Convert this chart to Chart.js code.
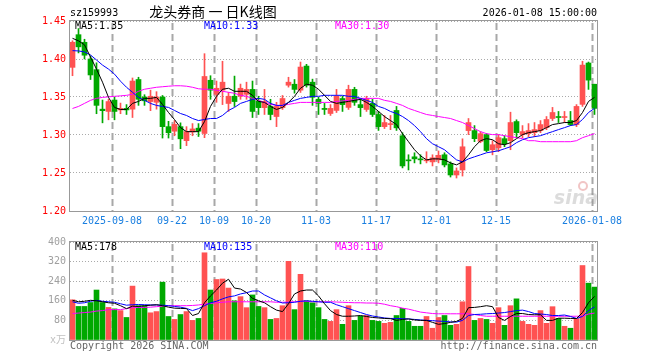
<!DOCTYPE html>
<html><head><meta charset="utf-8">
<script src="https://cdn.jsdelivr.net/npm/chart.js@4.4.1/dist/chart.umd.min.js"></script>
<style>
html,body{margin:0;padding:0;background:#fff;width:660px;height:360px;overflow:hidden}
canvas{position:absolute;left:0}
#c1{top:0}
#c2{top:232px}
</style></head><body>
<canvas id="c1" width="660" height="232"></canvas>
<canvas id="c2" width="660" height="128"></canvas>
<script>
// ---- data (one entry per trading day, 2025-08-28 .. 2026-01-08) ----
const openP  = [1.389,1.432,1.422,1.400,1.386,1.334,1.331,1.346,1.333,1.335,1.334,1.373,1.350,1.344,1.343,1.350,1.311,1.305,1.311,1.2925,1.304,1.309,1.302,1.372,1.3535,1.359,1.3415,1.351,1.351,1.3535,1.360,1.3445,1.336,1.3376,1.3243,1.336,1.3655,1.3668,1.359,1.3907,1.3695,1.347,1.335,1.3283,1.3323,1.348,1.3363,1.360,1.340,1.3336,1.3416,1.327,1.311,1.3137,1.3323,1.299,1.2673,1.2713,1.2686,1.266,1.2646,1.2673,1.274,1.262,1.2474,1.254,1.3058,1.3058,1.2916,1.3005,1.2806,1.2832,1.2952,1.2925,1.3177,1.3005,1.3018,1.3031,1.3058,1.3097,1.3217,1.3243,1.323,1.319,1.3137,1.3403,1.3947,1.3668];
const highP  = [1.424,1.440,1.426,1.404,1.395,1.346,1.347,1.350,1.342,1.340,1.375,1.376,1.353,1.359,1.357,1.352,1.318,1.319,1.316,1.311,1.315,1.315,1.407,1.378,1.371,1.397,1.356,1.3775,1.367,1.3695,1.371,1.351,1.360,1.347,1.343,1.352,1.376,1.373,1.396,1.393,1.3735,1.3496,1.3416,1.340,1.360,1.351,1.3655,1.3628,1.347,1.351,1.347,1.331,1.3257,1.3257,1.3376,1.303,1.274,1.2766,1.274,1.278,1.274,1.279,1.2766,1.2646,1.2567,1.295,1.3217,1.3124,1.3044,1.3018,1.2925,1.3005,1.299,1.330,1.320,1.3124,1.315,1.3164,1.319,1.3243,1.3363,1.331,1.331,1.331,1.340,1.397,1.396,1.3668];
const lowP   = [1.378,1.408,1.400,1.373,1.328,1.316,1.320,1.320,1.328,1.327,1.323,1.339,1.339,1.332,1.334,1.296,1.296,1.299,1.282,1.286,1.299,1.298,1.2965,1.347,1.343,1.340,1.331,1.3375,1.347,1.347,1.323,1.327,1.327,1.320,1.311,1.3336,1.363,1.355,1.356,1.363,1.339,1.327,1.327,1.3257,1.3296,1.331,1.3336,1.339,1.3243,1.331,1.3243,1.306,1.3085,1.307,1.306,1.2567,1.254,1.2633,1.262,1.2633,1.2593,1.2633,1.258,1.2447,1.2434,1.246,1.3005,1.2912,1.2898,1.278,1.2739,1.278,1.2846,1.2806,1.2965,1.2965,1.2978,1.2978,1.303,1.307,1.319,1.3164,1.3164,1.3124,1.311,1.3376,1.360,1.327];
const closeP = [1.422,1.416,1.405,1.379,1.339,1.332,1.344,1.331,1.335,1.333,1.371,1.347,1.345,1.351,1.350,1.311,1.303,1.314,1.295,1.3045,1.308,1.305,1.377,1.359,1.3615,1.3695,1.351,1.344,1.3615,1.360,1.331,1.336,1.344,1.327,1.3376,1.348,1.3695,1.360,1.3894,1.3655,1.3496,1.3416,1.3336,1.335,1.351,1.340,1.360,1.343,1.336,1.348,1.327,1.311,1.3164,1.315,1.3094,1.2593,1.266,1.2686,1.2673,1.2673,1.270,1.2733,1.2606,1.2474,1.2527,1.2845,1.3164,1.2952,1.3018,1.2796,1.2872,1.2965,1.2885,1.3164,1.3031,1.3045,1.3058,1.3071,1.3137,1.3204,1.3296,1.323,1.3243,1.3137,1.3376,1.392,1.3722,1.335];
const ma5P   = [1.4272,1.4239,1.4186,1.4026,1.3867,1.3695,1.3495,1.3363,1.3336,1.3336,1.3416,1.3442,1.3482,1.3482,1.3495,1.3402,1.3296,1.3203,1.3097,1.3044,1.3044,1.3044,1.3177,1.3376,1.3509,1.3602,1.3615,1.3575,1.3575,1.3575,1.3522,1.3442,1.3429,1.3376,1.3336,1.3363,1.3429,1.3509,1.3615,1.3668,1.3655,1.3602,1.3522,1.3442,1.3416,1.3429,1.3442,1.3456,1.3469,1.3429,1.3376,1.3310,1.3243,1.3190,1.3137,1.3018,1.2912,1.2806,1.2726,1.2673,1.2686,1.2686,1.2673,1.2633,1.2607,1.2646,1.2739,1.2846,1.2925,1.2952,1.2938,1.2885,1.2872,1.2899,1.2952,1.3005,1.3031,1.3044,1.3058,1.3097,1.3137,1.3150,1.3164,1.3164,1.3190,1.3296,1.3442,1.3495];
const ma10P  = [1.4110,1.4106,1.4093,1.4053,1.3987,1.3920,1.3867,1.3801,1.3708,1.3628,1.3562,1.3495,1.3456,1.3416,1.3389,1.3376,1.3363,1.3323,1.3283,1.3257,1.3217,1.3190,1.3204,1.3217,1.3217,1.3257,1.3323,1.3363,1.3416,1.3442,1.3469,1.3482,1.3469,1.3416,1.3389,1.3389,1.3429,1.3456,1.3482,1.3495,1.3509,1.3509,1.3522,1.3522,1.3522,1.3522,1.3509,1.3509,1.3482,1.3456,1.3429,1.3376,1.3350,1.3310,1.3283,1.3243,1.3190,1.3124,1.3044,1.2952,1.2885,1.2846,1.2806,1.2739,1.2673,1.2646,1.2686,1.2713,1.2739,1.2766,1.2779,1.2792,1.2819,1.2846,1.2899,1.2938,1.2965,1.2978,1.2991,1.3018,1.3044,1.3071,1.3097,1.3124,1.3137,1.3204,1.3296,1.3350];
const ma30P  = [1.3349,1.3376,1.3416,1.3456,1.3482,1.3495,1.3502,1.3509,1.3515,1.3522,1.3535,1.3575,1.3602,1.3615,1.3628,1.3635,1.3642,1.3648,1.3648,1.3642,1.3628,1.3608,1.3602,1.3602,1.3588,1.3575,1.3562,1.3549,1.3522,1.3509,1.3482,1.3456,1.3429,1.3403,1.3389,1.3389,1.3403,1.3416,1.3429,1.3429,1.3429,1.3429,1.3429,1.3429,1.3442,1.3449,1.3456,1.3469,1.3482,1.3482,1.3482,1.3482,1.3456,1.3442,1.3416,1.3389,1.3350,1.3323,1.3296,1.3270,1.3257,1.3243,1.3230,1.3217,1.3190,1.3164,1.3124,1.3084,1.3044,1.3018,1.3005,1.3005,1.2991,1.2978,1.2965,1.2952,1.2925,1.2925,1.2912,1.2912,1.2912,1.2912,1.2912,1.2912,1.2925,1.2965,1.2991,1.3018];
const volume = [164,137,137,153,204,153,133,127,120,92,220,140,140,111,116,236,96,84,104,116,80,88,356,204,247,249,212,160,177,132,184,137,132,84,88,140,321,124,268,160,152,132,84,76,124,64,140,80,97,100,80,76,68,72,100,129,76,56,56,96,48,92,100,60,64,156,300,80,88,84,68,132,60,140,168,76,64,60,120,68,136,88,56,48,88,304,232,216];
const volMa5 = [162,156,158,162,160,156,152,150,140,128,138,137,140,142,144,140,134,130,129,128,100,108,152,180,204,232,248,212,208,194,170,160,152,136,122,116,148,188,200,204,204,180,148,120,104,97,97,98,100,96,92,90,88,87,80,84,86,82,80,80,72,64,67,72,76,88,132,133,136,140,136,92,80,96,108,108,104,103,103,80,80,89,89,88,88,112,152,178];
const volMa10 = [156,150,152,158,162,158,156,154,148,142,144,145,144,143,143,142,140,137,134,129,120,128,140,152,158,168,176,180,188,193,200,200,184,172,160,151,152,154,158,160,158,156,154,154,144,136,128,120,112,104,98,94,90,88,88,87,86,84,82,80,79,77,76,74,73,80,100,104,105,107,108,110,112,116,120,122,116,108,106,104,100,100,102,96,88,96,120,135];
const volMa30 = [108,110,112,114,118,120,124,124,124,128,132,133,133,134,136,138,140,140,140,140,141,143,146,149,152,154,156,156,156,156,156,156,156,156,154,154,155,156,158,158,156,156,156,156,155,154,153,152,152,151,151,150,146,140,136,130,126,120,114,111,108,107,107,107,107,107,107,104,100,97,97,97,97,97,97,97,97,97,97,97,97,97,97,97,97,97,106,110];
const dateIdx = [7,17,24,31,41,51,61,71,87];
const dateLbl = ['2025-09-08','09-22','10-09','10-20','11-03','11-17','12-01','12-15','2026-01-08'];
const priceTicks = [1.20,1.25,1.30,1.35,1.40,1.45];
const volTicks = [0,80,160,240,320,400];
const priceLegend = ['MA5:1.35','MA10:1.33','MA30:1.30'];
const volLegend = ['MA5:178','MA10:135','MA30:110'];

// ---- styling ----
const RED = '#ff5252', GREEN = '#00a800', GRID = '#aaaaaa', FRAME = '#999999';
const MONO = '10px "DejaVu Sans Mono", "Liberation Mono", monospace';
const HALF = 2.5 / 6; // half a bar slot, in index units
const idx = closeP.map((_, i) => i);
const barColor = idx.map(i => closeP[i] >= openP[i] ? RED : GREEN);
const xMin = -HALF, xMax = closeP.length - 1 + HALF;

function xScale(showLabels, h) {
  return {
    type: 'linear', min: xMin, max: xMax, offset: false,
    afterBuildTicks: s => { s.ticks = dateIdx.map(i => ({ value: i - HALF })); },
    afterFit: s => { s.height = h; },
    ticks: {
      display: showLabels, autoSkip: false, maxRotation: 0, padding: 4,
      color: '#1a7fe0', font: { family: '"DejaVu Sans Mono", monospace', size: 10 },
      callback: (v, k) => dateLbl[k]
    },
    grid: { display: false, drawTicks: false, offset: false },
    border: { display: false }
  };
}

// dashed vertical date grid, positioned through the x scale
const dateGrid = {
  id: 'dateGrid',
  beforeDatasetsDraw(chart) {
    const { ctx, chartArea: a } = chart;
    const x = chart.scales.x;
    ctx.save();
    ctx.strokeStyle = '#a8a8a8'; ctx.lineWidth = 2; ctx.setLineDash([7, 4]);
    for (const i of dateIdx) {
      const px = Math.round(x.getPixelForValue(i - HALF)) + 0.5;
      ctx.beginPath(); ctx.moveTo(px, a.top + 2); ctx.lineTo(px, a.bottom); ctx.stroke();
    }
    ctx.restore();
  }
};

const framePlugin = {
  id: 'frame',
  afterDraw(chart) {
    const { ctx, chartArea: a } = chart;
    ctx.save();
    ctx.strokeStyle = FRAME; ctx.lineWidth = 1;
    ctx.strokeRect(Math.round(a.left) - 0.5, Math.round(a.top) - 0.5,
      Math.round(a.right - a.left) + 1, Math.round(a.bottom - a.top) + 1);
    ctx.restore();
  }
};

function line(data, color) {
  return { type: 'line', data: data.map((v, i) => ({ x: i, y: v })), borderColor: color,
    borderWidth: 1, pointRadius: 0, tension: 0, order: 0, fill: false };
}

// ---- upper panel: candlesticks ----
const upperText = {
  id: 'upperText',
  afterDraw(chart) {
    const ctx = chart.ctx;
    ctx.save();
    ctx.textBaseline = 'middle';
    ctx.font = MONO; ctx.fillStyle = '#000'; ctx.textAlign = 'left';
    ctx.fillText('sz159993', 70, 13);
    ctx.textAlign = 'right';
    ctx.fillText('2026-01-08 15:00:00', 597, 13);
    ctx.textAlign = 'center';
    ctx.font = '14px "Noto Sans CJK SC", sans-serif';
    ctx.fillText('龙头券商 一 日K线图', 213, 12);
    ctx.font = MONO; ctx.textAlign = 'left';
    ctx.fillStyle = '#000'; ctx.fillText(priceLegend[0], 75, 26);
    ctx.fillStyle = '#0000ff'; ctx.fillText(priceLegend[1], 204, 26);
    ctx.fillStyle = '#ff00ff'; ctx.fillText(priceLegend[2], 335, 26);
    // sina watermark
    ctx.globalAlpha = 0.3;
    ctx.font = 'italic bold 19px "DejaVu Sans", sans-serif';
    ctx.fillStyle = '#8a8a8a'; ctx.textAlign = 'right';
    ctx.fillText('sina', 598, 199);
    ctx.strokeStyle = '#d04040'; ctx.lineWidth = 2;
    ctx.beginPath(); ctx.arc(583, 186, 4, 0, Math.PI * 2); ctx.stroke();
    ctx.restore();
  }
};

new Chart(document.getElementById('c1'), {
  type: 'bar',
  data: {
    datasets: [
      line(ma5P, '#000000'),
      line(ma10P, '#0000ff'),
      line(ma30P, '#ff00ff'),
      { type: 'bar', data: idx.map(i => ({ x: i, y: [openP[i], closeP[i]] })),
        backgroundColor: barColor, barThickness: 5, minBarLength: 1, grouped: false, order: 1, borderWidth: 0 },
      { type: 'bar', data: idx.map(i => ({ x: i, y: [lowP[i], highP[i]] })),
        backgroundColor: barColor, barThickness: 1, minBarLength: 1, grouped: false, order: 2, borderWidth: 0 }
    ]
  },
  options: {
    responsive: false, animation: false,
    layout: { padding: { left: 0, right: 63, top: 21, bottom: 0 } },
    plugins: { legend: { display: false }, tooltip: { enabled: false } },
    scales: {
      x: xScale(true, 21),
      y: {
        min: priceTicks[0], max: priceTicks[priceTicks.length - 1],
        afterBuildTicks: s => { s.ticks = priceTicks.map(v => ({ value: v })); },
        afterFit: s => { s.width = 70; },
        ticks: { color: '#ff0000', padding: 4, font: { family: '"DejaVu Sans Mono", monospace', size: 10 },
          callback: v => Number(v).toFixed(2) },
        grid: { color: GRID, drawTicks: false },
        border: { display: false, dash: [1, 2] }
      }
    }
  },
  plugins: [dateGrid, framePlugin, upperText]
});

// ---- lower panel: volume ----
const lowerText = {
  id: 'lowerText',
  afterDraw(chart) {
    const ctx = chart.ctx;
    ctx.save();
    ctx.textBaseline = 'middle'; ctx.font = MONO; ctx.textAlign = 'left';
    ctx.fillStyle = '#000'; ctx.fillText(volLegend[0], 75, 15);
    ctx.fillStyle = '#0000ff'; ctx.fillText(volLegend[1], 204, 15);
    ctx.fillStyle = '#ff00ff'; ctx.fillText(volLegend[2], 335, 15);
    ctx.fillStyle = '#666'; ctx.fillText('Copyright 2026 SINA.COM', 70, 114);
    ctx.textAlign = 'right'; ctx.fillText('http://finance.sina.com.cn', 597, 114);
    ctx.restore();
  }
};

new Chart(document.getElementById('c2'), {
  type: 'bar',
  data: {
    datasets: [
      line(volMa5, '#000000'),
      line(volMa10, '#0000ff'),
      line(volMa30, '#ff00ff'),
      { type: 'bar', data: idx.map(i => ({ x: i, y: volume[i] })),
        backgroundColor: barColor, barThickness: 5, grouped: false, order: 1, borderWidth: 0 }
    ]
  },
  options: {
    responsive: false, animation: false,
    layout: { padding: { left: 0, right: 63, top: 8, bottom: 20 } },
    plugins: { legend: { display: false }, tooltip: { enabled: false } },
    scales: {
      x: xScale(false, 0),
      y: {
        min: volTicks[0], max: volTicks[volTicks.length - 1],
        afterBuildTicks: s => { s.ticks = volTicks.map(v => ({ value: v })); },
        afterFit: s => { s.width = 70; },
        ticks: { padding: 4, font: { family: '"DejaVu Sans Mono", "Noto Sans CJK SC", monospace', size: 10 },
          color: c => c.tick && c.tick.value === 0 ? '#c0c0c0' : '#a0a0a0',
          callback: v => v === 0 ? 'x万' : String(v) },
        grid: { color: GRID, drawTicks: false },
        border: { display: false, dash: [1, 2] }
      }
    }
  },
  plugins: [dateGrid, framePlugin, lowerText]
});
</script></body></html>
